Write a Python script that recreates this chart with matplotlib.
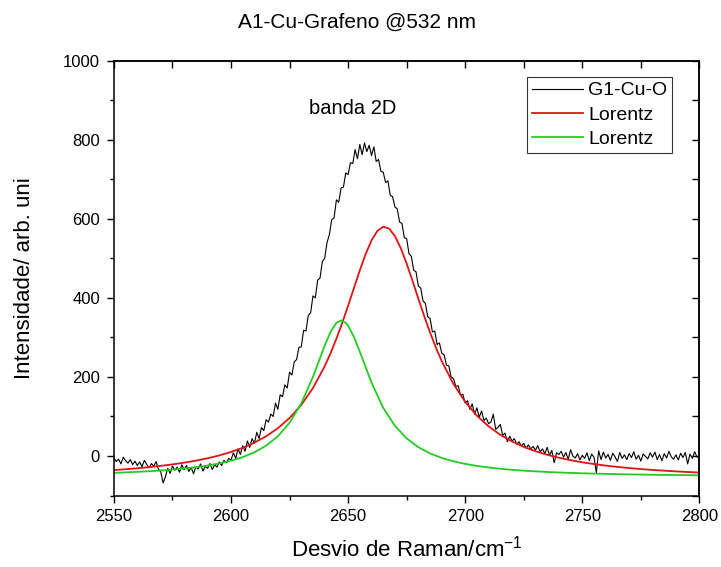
import numpy as np
import matplotlib
matplotlib.use("Agg")
import matplotlib.pyplot as plt
from matplotlib.ticker import MultipleLocator

plt.rcParams["font.family"] = ["Liberation Sans", "DejaVu Sans"]
plt.rcParams["mathtext.fontset"] = "custom"
plt.rcParams["mathtext.rm"] = "Liberation Sans"
plt.rcParams["mathtext.it"] = "Liberation Sans"

# Raman spectrum, 1 cm-1 steps from 2550 to 2800
raman_shift = np.arange(2550, 2801, 1)
intensity = [
    -5, -14, -8, -20, -3, -12, -18, -9, -22, -13,
    -24, -15, -27, -11, -21, -30, -19, -26, -14, -33,
    -40, -68, -52, -31, -44, -25, -36, -28, -41, -22,
    -35, -24, -39, -29, -45, -27, -33, -20, -38, -26,
    -31, -19, -34, -22, -28, -15, -24, -11, -17, -6,
    -10, 8, -6, 18, 4, 26, 12, 38, 22, 44,
    32, 60, 44, 72, 64, 92, 86, 106, 100, 134,
    118, 155, 150, 180, 172, 212, 205, 238, 244, 275,
    276, 318, 316, 356, 362, 405, 400, 445, 450, 492,
    500, 540, 560, 598, 602, 648, 642, 678, 680, 716,
    712, 742, 740, 775, 752, 788, 762, 792, 770, 786,
    760, 782, 745, 750, 720, 718, 692, 696, 660, 656,
    630, 625, 592, 588, 552, 550, 512, 505, 470, 466,
    430, 425, 392, 386, 352, 348, 314, 316, 282, 286,
    260, 256, 230, 228, 200, 196, 176, 178, 154, 156,
    134, 140, 118, 132, 106, 122, 98, 114, 90, 96,
    82, 86, 106, 68, 72, 80, 52, 58, 36, 50,
    38, 44, 30, 36, 25, 32, 20, 28, 18, 24,
    15, 26, 10, 18, 6, 22, 2, 14, -17, 8,
    4, 12, -3, 9, -8, 16, 0, -5, 6, -10,
    2, -6, 8, -12, 5, -3, -42, 13, -9, 10,
    -5, 4, -11, 7, -2, -14, 9, -6, 3, -9,
    6, -4, 11, -8, 2, -13, 5, -1, -7, 8,
    -3, 10, -9, 4, -12, 6, -5, 12, -2, -8,
    3, -10, 7, -4, 9, -20, 5, -6, 11, -3,
    -1,
]

# fitted Lorentz components
fit1_x = [2550, 2555, 2560, 2565, 2570, 2575, 2580, 2585, 2590, 2595,
          2600, 2605, 2610, 2615, 2620, 2625, 2630, 2635, 2640, 2642.5,
          2645, 2647.5, 2650, 2652.5, 2655, 2657.5, 2660, 2662.5, 2665,
          2667.5, 2670, 2672.5, 2675, 2677.5, 2680, 2682.5, 2685, 2687.5,
          2690, 2695, 2700, 2705, 2710, 2715, 2720, 2725, 2730, 2735,
          2740, 2745, 2750, 2755, 2760, 2765, 2770, 2775, 2780, 2785,
          2790, 2795, 2800]
fit1_y = [-35.6, -33.4, -31.0, -28.1, -24.9, -21.2, -16.8, -11.7, -5.7, 1.5,
          10.3, 20.8, 33.8, 50.0, 70.3, 96.1, 129.2, 172.0, 227.0, 260.0,
          296.7, 336.9, 380.0, 425.0, 469.6, 510.9, 545.4, 569.3, 580.0,
          575.2, 556.4, 525.7, 486.7, 443.0, 398.0, 353.9, 312.4, 274.2,
          239.8, 182.0, 136.9, 102.0, 75.0, 53.6, 36.8, 23.2, 12.2, 3.2,
          -4.3, -10.6, -15.9, -20.3, -24.2, -27.5, -30.4, -33.0, -35.2, -37.1,
          -38.9, -40.4, -41.8]

fit2_x = [2550, 2555, 2560, 2565, 2570, 2575, 2580, 2585, 2590, 2595,
          2600, 2605, 2610, 2615, 2620, 2625, 2630, 2635, 2640, 2642.5,
          2645, 2647, 2649, 2650, 2652.5, 2655, 2660, 2665, 2670, 2675,
          2680, 2685, 2690, 2695, 2700, 2705, 2710, 2715, 2720, 2725,
          2730, 2735, 2740, 2745, 2750, 2755, 2760, 2765, 2770, 2775,
          2780, 2785, 2790, 2795, 2800]
fit2_y = [-42.5, -41.4, -40.0, -38.5, -36.6, -34.4, -31.6, -28.3, -24.1, -18.7,
          -11.9, -2.8, 9.4, 26.2, 49.9, 84.0, 133.0, 200.4, 279.4, 314.0,
          336.9, 343.0, 336.9, 329.5, 301.1, 263.8, 185.6, 121.8, 76.2, 44.5,
          22.4, 6.6, -4.8, -13.4, -19.9, -25.0, -29.0, -32.2, -34.9, -37.0,
          -38.8, -40.3, -41.6, -42.7, -43.7, -44.5, -45.2, -45.9, -46.4, -46.9,
          -47.4, -47.7, -48.1, -48.4, -48.7]

fig = plt.figure(figsize=(7.21, 5.67), dpi=100)
ax = fig.add_axes([0.158, 0.126, 0.812, 0.767])

ax.plot(raman_shift, intensity, color="black", lw=0.8, label="G1-Cu-O")
ax.plot(fit1_x, fit1_y, color="#e01414", lw=1.3, label="Lorentz")
ax.plot(fit2_x, fit2_y, color="#22cc22", lw=1.3, label="Lorentz")

ax.set_xlim(2550, 2800)
ax.set_ylim(-100, 1000)

ax.xaxis.set_major_locator(MultipleLocator(50))
ax.xaxis.set_minor_locator(MultipleLocator(25))
ax.yaxis.set_major_locator(MultipleLocator(200))
ax.yaxis.set_minor_locator(MultipleLocator(100))
ax.tick_params(which="both", direction="out", top=False, right=False,
               labelsize=12, width=1, pad=5)
ax.tick_params(which="major", length=5)
ax.tick_params(which="minor", length=3)

# mirrored ticks pointing inwards on top and right
top = ax.secondary_xaxis("top")
top.xaxis.set_major_locator(MultipleLocator(25))
top.tick_params(direction="in", length=5, width=1, labeltop=False)
right = ax.secondary_yaxis("right")
right.yaxis.set_major_locator(MultipleLocator(100))
right.tick_params(direction="in", length=5, width=1, labelright=False)

for sp in list(ax.spines.values()) + [top.spines["top"], right.spines["right"]]:
    sp.set_linewidth(1.1)

ax.set_xlabel("Desvio de Raman/cm$^{-1}$", fontsize=16, labelpad=8)
ax.set_ylabel("Intensidade/ arb. uni", fontsize=16, labelpad=20)
fig.text(0.495, 0.961, "A1-Cu-Grafeno @532 nm", ha="center", va="center",
         fontsize=15)

ax.text(2633.3, 880, "banda 2D", ha="left", va="center", fontsize=14.5)

leg = ax.legend(loc="upper left", bbox_to_anchor=(0.706, 0.9625),
                borderaxespad=0, fontsize=14, frameon=True, fancybox=False,
                handlelength=2.6, handletextpad=0.3, labelspacing=0.35,
                borderpad=0.25)
leg.get_frame().set_edgecolor("black")
leg.get_frame().set_linewidth(0.8)

fig.savefig("out.png", dpi=100)
